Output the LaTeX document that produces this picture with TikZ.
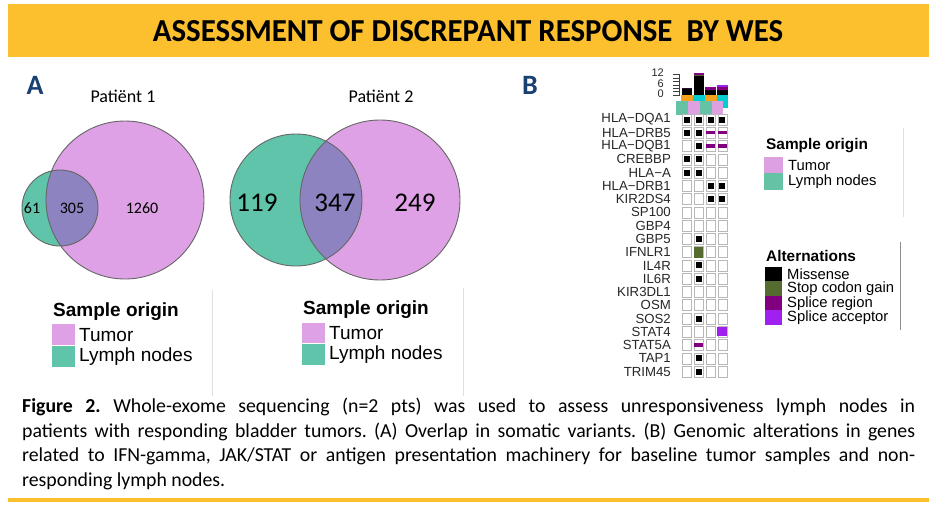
\documentclass[tikz,border=0pt]{standalone}
\usepackage{graphicx}
\usepackage{fontspec}
\setmainfont{Carlito}
\newfontfamily\helv{Liberation Sans}
\usetikzlibrary{positioning}

\definecolor{band}{RGB}{252,191,45}
\definecolor{navyA}{RGB}{24,64,112}
\definecolor{vpink}{RGB}{223,161,230}
\definecolor{vgreen}{RGB}{96,196,170}
\definecolor{vboth}{RGB}{141,131,192}
\definecolor{spink}{RGB}{221,160,225}
\definecolor{sgreen}{RGB}{102,194,165}
\definecolor{sorange}{RGB}{246,162,30}
\definecolor{scyan}{RGB}{0,206,209}
\definecolor{stopgain}{RGB}{85,107,47}
\definecolor{splreg}{RGB}{128,0,128}
\definecolor{splacc}{RGB}{160,32,240}

\begin{document}
\begin{tikzpicture}[x=1pt,y=-1pt,
    vline/.style={draw=black!60,line width=0.9pt},
    vnum/.style={font=\fontsize{16}{16}\selectfont},
    bignum/.style={font=\fontsize{27}{27}\selectfont},
    pname/.style={font=\fontsize{18}{18}\selectfont},
    panel/.style={font=\fontsize{28}{28}\selectfont\bfseries,text=navyA},
    legtitle/.style={anchor=west,inner sep=0pt,font=\helv\bfseries\fontsize{19}{19}\selectfont},
    legtext/.style={anchor=west,inner sep=0pt,font=\helv\fontsize{19}{19}\selectfont},
    btitle/.style={anchor=west,inner sep=0pt,font=\helv\bfseries\fontsize{15.4}{15.4}\selectfont},
    btext/.style={anchor=west,inner sep=0pt,font=\helv\fontsize{14.8}{14.8}\selectfont},
    gene/.style={anchor=east,inner sep=0pt,text=black!85,font=\helv\fontsize{13.2}{13.2}\selectfont},
    axlab/.style={anchor=east,inner sep=0pt,text=black!85,font=\helv\fontsize{11}{11}\selectfont},
    cell/.style={draw=black!28,line width=0.6pt,inner sep=0pt,minimum width=9pt,minimum height=11pt},
    faint/.style={draw=black!12,line width=0.6pt}]
  \useasboundingbox (0,0) rectangle (936,504);

  % header and bottom rule
  \fill[band] (8,4) rectangle (929,57);
  \node (title) at (468,31) {\resizebox{630pt}{21pt}{\bfseries ASSESSMENT OF DISCREPANT RESPONSE\ \ BY WES}};
  \fill[band] (8,498) rectangle (929,502);

  % panel A
  \node[panel] (lblA) at (35,85) {A};
  \node[pname] (p1) at (123,96) {Patiënt 1};
  \node[pname] (p2) at (381,96) {Patiënt 2};

  \begin{scope}
    \fill[vpink] (125,200) circle (79);
    \fill[vgreen] (60,208) circle (38);
    \clip (60,208) circle (38);
    \fill[vboth] (125,200) circle (79);
  \end{scope}
  \draw[vline] (125,200) circle (79) (60,208) circle (38);
  \node[vnum] (n61) at (32,208) {61};
  \node[vnum] (n305) at (72,208) {305};
  \node[vnum] (n1260) at (142,208) {1260};

  \begin{scope}
    \fill[vpink] (380,200) circle (80);
    \fill[vgreen] (296,200) circle (66);
    \clip (296,200) circle (66);
    \fill[vboth] (380,200) circle (80);
  \end{scope}
  \draw[vline] (380,200) circle (80) (296,200) circle (66);
  \node[bignum] (n119) at (257,203) {119};
  \node[bignum] (n347) at (335,203) {347};
  \node[bignum] (n249) at (415,203) {249};

  % legends under the venns
  \node[legtitle] (so1) at (53,312) {Sample origin};
  \fill[vpink] (52,324) rectangle (75,345);
  \fill[vgreen] (52,346) rectangle (75,367);
  \node[legtext] (tu1) at (79,335) {Tumor};
  \node[legtext] (ly1) at (79,357) {Lymph nodes};

  \node[legtitle] (so2) at (303,310) {Sample origin};
  \fill[vpink] (302,323) rectangle (325,343);
  \fill[vgreen] (302,344) rectangle (325,365);
  \node[legtext] (tu2) at (329,333) {Tumor};
  \node[legtext] (ly2) at (329,355) {Lymph nodes};

  \draw[faint] (212,290) -- (212,396);
  \draw[faint] (463,288) -- (463,396);

  % panel B
  \node[panel] (lblB) at (530,85) {B};

  % bar axis
  \draw[black!75,line width=0.6pt] (679.5,95) -- (679.5,74.6);
  \foreach \k in {0,2,...,12}
    \draw[black!75,line width=0.6pt] (673,95-1.7*\k) -- (679.5,95-1.7*\k);
  \node[axlab] (ax12) at (664,73) {12};
  \node[axlab] (ax6) at (664,83.5) {6};
  \node[axlab] (ax0) at (664,94) {0};

  % stacked bars per sample
  \foreach \j/\m/\s/\r/\a in {0/4/0/0/0,1/11/1/1/0,2/3/0/2/0,3/3/0/2/1}{
    \pgfmathsetmacro\ya{95-1.7*\m}
    \pgfmathsetmacro\yb{\ya-1.7*\s}
    \pgfmathsetmacro\yc{\yb-1.7*\r}
    \pgfmathsetmacro\yd{\yc-1.7*\a}
    \fill[black] (681.75+11.8*\j,95) rectangle (692.25+11.8*\j,\ya);
    \fill[stopgain] (681.75+11.8*\j,\ya) rectangle (692.25+11.8*\j,\yb);
    \fill[splreg] (681.75+11.8*\j,\yb) rectangle (692.25+11.8*\j,\yc);
    \fill[splacc] (681.75+11.8*\j,\yc) rectangle (692.25+11.8*\j,\yd);
  }

  % annotation tracks
  \foreach \j/\c in {0/sorange,1/scyan,2/sorange,3/scyan}
    \fill[\c] (681.1+11.8*\j,95) rectangle (692.9+11.8*\j,108);
  \foreach \j/\c in {0/sgreen,1/spink,2/sgreen,3/spink}
    \fill[\c] (676.1+11.8*\j,101) rectangle (687.9+11.8*\j,115);

  % genes and cells
  \foreach \g [count=\i from 0] in {HLA−DQA1,HLA−DRB5,HLA−DQB1,CREBBP,HLA−A,HLA−DRB1,KIR2DS4,SP100,GBP4,GBP5,IFNLR1,IL4R,IL6R,KIR3DL1,OSM,SOS2,STAT4,STAT5A,TAP1,TRIM45}{
    \node[gene] (g\i) at (671,119.5+13.27*\i) {\g};
    \foreach \j in {0,...,3}
      \node[cell] (c\i-\j) at (687+11.8*\j,119.5+13.27*\i) {};
  }

  % alterations
  \foreach \c in {0-0,0-1,0-2,0-3,1-0,1-1,2-1,3-0,3-1,4-0,4-1,5-2,5-3,6-2,6-3,9-1,11-1,12-1,15-1,18-1,19-1}
    \fill[black] (c\c.center) ++(-3,-3) rectangle ++(6,6);
  \foreach \c in {1-2,1-3,2-2,2-3,17-1}
    \fill[splreg] (c\c.center) ++(-4.5,-1.7) rectangle ++(9,3.4);
  \fill[stopgain] (c10-1.center) ++(-4.5,-5.5) rectangle ++(9,11);
  \fill[splacc] (c16-3.center) ++(-5,-4.5) rectangle ++(10,9);

  % legends of panel B
  \node[btitle] (so3) at (766,146) {Sample origin};
  \fill[spink] (764,157) rectangle (783,173);
  \fill[sgreen] (764,173) rectangle (783,190);
  \node[btext] (tu3) at (788,165) {Tumor};
  \node[btext] (ly3) at (788,182) {Lymph nodes};
  \draw[faint] (903,128) -- (903,217);

  \node[btitle] (alt) at (766,256) {Alternations};
  \foreach \c/\t [count=\k from 0] in {black/Missense,stopgain/Stop codon gain,splreg/Splice region,splacc/Splice acceptor}{
    \fill[\c] (765,267+14.4*\k) rectangle (782,281.4+14.4*\k);
    \node[btext] (a\k) at (787,274.7+14.4*\k) {\t};
  }
  \draw[black!45,line width=0.6pt] (900,242) -- (900,330);

  % caption
  \node[anchor=north west,inner sep=0pt,text width=893pt,align=justify,
        font=\fontsize{19.8}{24.6}\selectfont\frenchspacing] (cap) at (22,398)
    {\textbf{Figure 2.} Whole-exome sequencing (n=2 pts) was used to assess unresponsiveness lymph nodes in\linebreak
     patients with responding bladder tumors. (A) Overlap in somatic variants. (B) Genomic alterations in genes\linebreak
     related to IFN-gamma, JAK/STAT or antigen presentation machinery for baseline tumor samples and non-\linebreak
     responding lymph nodes.};
\end{tikzpicture}
\end{document}
